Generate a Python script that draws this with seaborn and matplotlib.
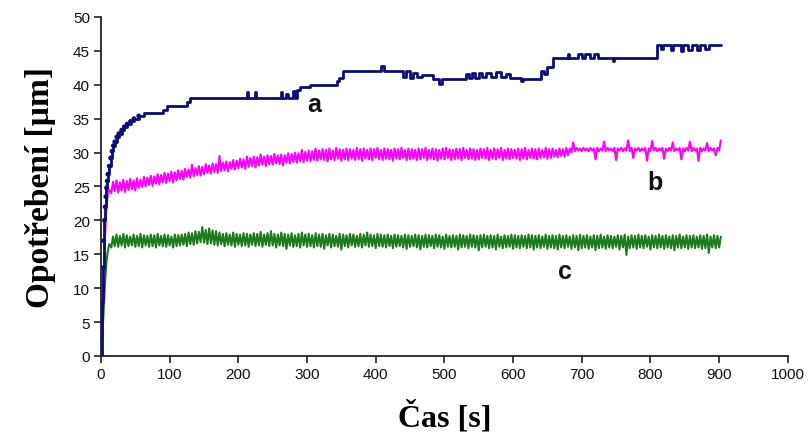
import numpy as np
import pandas as pd
import seaborn as sns
import matplotlib
matplotlib.use("Agg")
import matplotlib.pyplot as plt

# ---------------- data ----------------
x_ticks = [0, 100, 200, 300, 400, 500, 600, 700, 800, 900, 1000]
y_ticks = [0, 5, 10, 15, 20, 25, 30, 35, 40, 45, 50]

# series a (step-like wear curve)
a_time = [0, 1, 2, 3, 4, 5, 6, 7, 8, 9, 10, 12, 14, 16, 18, 20, 23, 26, 30, 34, 38, 43, 48, 55, 62,
          90, 96, 125, 130, 212, 214, 224, 226, 262, 264, 270, 273, 280, 282, 286, 290, 304, 343, 347,
          352, 408, 412, 440, 444, 450, 455, 460, 468, 483, 492, 496, 532, 536, 540, 545, 550, 555,
          560, 568, 575, 582, 590, 596, 612, 614, 640, 645, 650, 658, 680, 682, 695, 700, 705, 712,
          718, 724, 745, 747, 809, 815, 818, 830, 833, 845, 848, 855, 860, 868, 872, 880, 885, 903]
a_wear = [0, 3, 8, 13, 17, 20, 22, 23.5, 24.8, 25.8, 26.8, 28, 29.2, 30.2, 31, 31.6, 32.3, 32.8, 33.3,
          33.8, 34.2, 34.6, 35.0, 35.4, 35.9, 36.3, 36.9, 37.4, 38.0, 39.0, 38.0, 39.0, 38.0, 39.0,
          38.0, 38.6, 38.0, 39.1, 38.0, 39.2, 39.6, 40.0, 40.5, 41.0, 42.1, 42.8, 42.1, 41.2, 42.0,
          41.0, 41.8, 41.2, 41.4, 40.9, 40.1, 40.9, 41.6, 41.0, 41.8, 41.0, 41.7, 41.1, 41.8, 41.2,
          41.9, 41.2, 41.6, 41.0, 40.6, 40.9, 42.0, 41.6, 42.6, 43.9, 44.6, 43.9, 44.6, 44.0, 44.5,
          43.9, 44.6, 44.0, 43.5, 43.9, 45.9, 45.3, 45.9, 45.2, 45.9, 45.0, 45.9, 45.1, 45.9, 45.2,
          45.9, 45.3, 45.9, 45.9]

# series b and c: early rise, then alternating low readings (t = 15, 20, ... 900 s)
# and high readings (t = 17.5, 22.5, ... 902.5 s)
early_time = [0, 2, 4, 6, 8, 10, 12]
b_early = [0, 5, 12, 18, 22, 24, 24.5]
c_early = [0, 3, 7, 11, 14, 15.5, 16.5]

b_low = [24.0, 24.3, 24.1, 24.4, 24.2, 24.5, 24.6, 24.4, 24.8, 24.9,
         25.0, 25.2, 25.1, 25.4, 25.3, 25.6, 25.5, 25.8, 25.6, 25.9,
         26.1, 26.0, 26.4, 26.3, 26.5, 26.7, 26.6, 26.8, 27.0, 26.9,
         27.1, 27.0, 27.3, 27.4, 27.2, 27.6, 27.5, 27.7, 27.8, 27.6,
         27.9, 28.0, 27.8, 28.1, 28.2, 28.0, 28.3, 28.2, 28.4, 28.3,
         28.1, 28.5, 28.4, 28.6, 28.5, 28.7, 28.6, 28.8, 28.7, 28.9,
         28.8, 29.0, 28.9, 28.7, 29.0, 28.9, 29.1, 28.8, 29.0, 28.9,
         29.1, 28.9, 29.0, 28.8, 29.1, 29.0, 28.9, 29.2, 29.0, 28.9,
         29.1, 29.0, 28.8, 29.1, 29.0, 29.2, 28.9, 29.0, 29.1, 28.9,
         29.0, 29.2, 28.9, 29.1, 29.0, 28.8, 29.1, 29.0, 29.2, 28.9,
         29.0, 29.1, 28.9, 29.2, 29.0, 29.1, 28.9, 29.0, 29.2, 29.1,
         28.9, 29.1, 29.0, 29.2, 28.9, 29.1, 29.0, 29.2, 29.1, 28.9,
         29.1, 29.0, 29.2, 29.1, 29.0, 29.2, 29.3, 29.1, 29.2, 29.4,
         29.3, 29.5, 29.4, 29.6, 30.0, 30.2, 30.3, 30.2, 30.3, 30.2,
         30.3, 29.0, 30.2, 30.3, 30.2, 30.3, 30.2, 28.9, 30.3, 30.2,
         30.3, 30.2, 29.2, 30.3, 30.2, 30.3, 28.8, 30.2, 30.3, 30.2,
         30.3, 29.1, 30.2, 30.3, 30.2, 30.3, 29.0, 30.2, 30.3, 30.2,
         30.3, 28.8, 30.2, 30.3, 30.2, 30.3, 29.6, 30.3]

b_high = [25.7, 25.9, 25.6, 26.0, 25.8, 26.1, 25.9, 26.2, 26.0, 26.4,
          26.3, 26.6, 26.5, 26.8, 26.7, 27.0, 26.9, 27.2, 27.1, 27.4,
          27.3, 27.6, 27.5, 28.2, 27.7, 28.0, 27.9, 28.3, 28.1, 28.4,
          28.3, 29.5, 28.5, 28.7, 28.6, 28.9, 28.8, 29.1, 29.0, 29.4,
          29.2, 29.4, 29.3, 29.7, 29.4, 29.6, 29.5, 29.8, 29.6, 29.7,
          29.6, 29.9, 29.8, 30.0, 29.9, 30.4, 30.1, 30.3, 30.2, 30.6,
          30.3, 30.5, 30.4, 30.6, 30.3, 30.7, 30.5, 30.4, 30.6, 30.5,
          30.4, 30.7, 30.5, 30.6, 30.4, 30.6, 30.5, 30.7, 30.4, 30.6,
          30.5, 30.4, 30.6, 30.5, 30.7, 30.4, 30.6, 30.5, 30.4, 30.6,
          30.5, 30.7, 30.4, 30.6, 30.5, 30.4, 30.6, 30.7, 30.5, 30.4,
          30.6, 30.5, 30.7, 30.4, 30.6, 30.5, 30.4, 30.6, 30.5, 30.7,
          30.4, 30.6, 30.5, 30.7, 30.4, 30.6, 30.5, 30.4, 30.6, 30.5,
          30.7, 30.4, 30.6, 30.5, 30.6, 30.4, 30.7, 30.5, 30.6, 30.4,
          30.6, 30.5, 30.7, 30.6, 31.5, 30.7, 30.6, 30.7, 30.6, 30.7,
          30.6, 30.7, 30.6, 31.6, 30.7, 30.6, 30.7, 30.6, 30.7, 30.6,
          31.8, 30.7, 30.6, 30.7, 30.6, 30.7, 30.6, 31.7, 30.7, 30.6,
          30.7, 30.6, 30.7, 31.5, 30.6, 30.7, 30.6, 30.7, 31.6, 30.7,
          30.6, 30.7, 30.6, 31.4, 30.7, 30.6, 30.7, 31.8]

c_low = [16.0, 16.2, 16.1, 16.3, 16.0, 16.2, 16.3, 16.1, 16.2, 16.0,
         16.3, 16.1, 16.2, 16.0, 16.3, 16.2, 16.1, 16.3, 16.0, 16.2,
         16.3, 16.4, 16.2, 16.5, 16.4, 16.6, 16.8, 16.7, 16.5, 16.6,
         16.4, 16.3, 16.5, 16.2, 16.4, 16.3, 16.1, 16.4, 16.2, 16.3,
         16.1, 16.4, 16.2, 16.3, 16.1, 16.4, 16.2, 16.3, 16.0, 16.3,
         16.2, 15.8, 16.3, 16.1, 16.2, 16.0, 16.3, 16.1, 16.2, 16.0,
         16.2, 16.1, 15.8, 16.3, 16.0, 16.2, 16.1, 15.7, 16.2, 16.0,
         16.3, 16.1, 16.2, 16.0, 16.3, 16.1, 16.2, 15.9, 16.2, 16.1,
         16.0, 16.2, 15.9, 16.1, 16.2, 16.0, 15.8, 16.1, 16.2, 16.0,
         15.7, 16.1, 16.0, 16.2, 15.9, 16.1, 16.0, 15.8, 16.1, 16.0,
         16.1, 15.7, 16.0, 16.1, 15.9, 16.1, 16.0, 15.6, 16.0, 16.1,
         15.9, 16.0, 15.7, 16.1, 15.9, 16.0, 16.1, 15.8, 16.0, 15.9,
         16.1, 15.9, 16.0, 15.7, 16.0, 15.9, 16.1, 15.8, 16.0, 15.9,
         15.7, 16.0, 15.9, 16.1, 15.8, 16.0, 15.6, 15.9, 16.0, 15.8,
         16.0, 15.6, 15.9, 16.0, 15.8, 16.0, 15.9, 16.1, 15.7, 16.0,
         14.9, 15.9, 16.0, 15.8, 16.0, 15.9, 16.1, 15.7, 16.0, 15.9,
         16.0, 15.8, 16.0, 15.9, 15.6, 16.0, 15.9, 16.0, 15.8, 16.0,
         15.9, 16.0, 15.8, 15.9, 15.2, 16.0, 15.9, 16.0]

c_high = [17.6, 17.9, 17.7, 18.0, 17.8, 17.6, 17.9, 17.7, 18.0, 17.8,
          17.7, 17.9, 17.8, 18.0, 17.7, 17.9, 17.8, 17.6, 17.9, 17.8,
          17.9, 18.0, 18.2, 18.1, 18.4, 18.3, 19.0, 18.6, 18.8, 18.5,
          18.4, 18.2, 18.0, 18.1, 17.9, 18.2, 18.0, 17.9, 18.1, 18.0,
          17.9, 18.1, 18.0, 18.3, 17.9, 18.1, 18.4, 18.0, 17.9, 18.2,
          18.0, 17.9, 18.1, 17.8, 18.0, 18.2, 17.9, 18.0, 17.8, 18.1,
          17.9, 18.0, 17.8, 18.0, 17.9, 17.7, 18.0, 17.9, 17.8, 18.0,
          17.9, 17.7, 18.0, 17.9, 18.2, 17.9, 17.8, 18.0, 17.9, 17.8,
          17.9, 17.7, 17.9, 17.8, 17.7, 17.9, 17.8, 17.7, 17.9, 17.8,
          17.7, 17.9, 17.8, 17.7, 17.9, 17.8, 17.6, 17.9, 17.7, 17.8,
          17.7, 17.9, 17.8, 17.7, 17.9, 17.8, 17.7, 17.8, 17.9, 17.7,
          17.8, 17.7, 17.9, 17.6, 17.8, 17.7, 17.9, 17.8, 17.7, 17.8,
          17.7, 17.9, 17.8, 17.7, 17.8, 17.6, 17.9, 17.7, 17.8, 17.7,
          17.9, 17.7, 17.8, 17.6, 17.8, 17.7, 17.9, 17.7, 17.8, 17.6,
          17.8, 17.7, 17.9, 17.6, 17.8, 17.7, 17.6, 17.8, 17.7, 17.9,
          17.6, 17.8, 17.7, 17.9, 17.7, 17.8, 17.6, 17.8, 17.7, 17.9,
          17.7, 17.8, 17.6, 17.8, 17.7, 17.9, 17.6, 17.8, 17.7, 17.8,
          17.6, 17.8, 17.7, 17.9, 17.6, 17.8, 17.7, 17.6]

series_labels = ["a", "b", "c"]
label_pos_time = [311, 806, 675]
label_pos_wear = [37.2, 25.7, 12.5]


# ---------------- build tables ----------------
def band_table(early_vals, lows, highs):
    t_low = [15 + 5 * i for i in range(len(lows))]
    t_high = [17.5 + 5 * i for i in range(len(highs))]
    df = pd.DataFrame({"t": early_time + t_low + t_high,
                       "w": early_vals + lows + highs})
    return df.sort_values("t").reset_index(drop=True)


b_df = band_table(b_early, b_low, b_high)
c_df = band_table(c_early, c_low, c_high)
a_df = pd.DataFrame({"t": a_time, "w": a_wear})

# ---------------- plot ----------------
sns.set_theme(style="white")
plt.rcParams["font.family"] = ["Liberation Sans", "DejaVu Sans"]

fig = plt.figure(figsize=(8.08, 4.39), dpi=100)
ax = fig.add_axes([0.125, 0.187, 0.85, 0.772])

sns.lineplot(data=c_df, x="t", y="w", ax=ax, color="#1d7a1d", linewidth=1.5,
             estimator=None, sort=False)
sns.lineplot(data=b_df, x="t", y="w", ax=ax, color="#ff00ff", linewidth=1.5,
             estimator=None, sort=False)
sns.lineplot(data=a_df, x="t", y="w", ax=ax, color="#0c0c7a", linewidth=2.0,
             drawstyle="steps-post", estimator=None, sort=False)
early = a_df[a_df["t"] <= 60]
sns.scatterplot(data=early, x="t", y="w", ax=ax, color="#0c0c7a", s=12, edgecolor="none")

for lab, tx, ty in zip(series_labels, label_pos_time, label_pos_wear):
    ax.text(tx, ty, lab, fontsize=18, fontweight="bold", color="#111111",
            ha="center", va="center")

ax.set_xlim(0, 1000)
ax.set_ylim(0, 50)
ax.set_xticks(x_ticks)
ax.set_yticks(y_ticks)
ax.set_xticklabels([str(v) for v in x_ticks], fontsize=11, color="#111111")
ax.set_yticklabels([str(v) for v in y_ticks], fontsize=11, color="#111111")
ax.tick_params(axis="both", direction="out", length=5, width=1.2, color="#222222",
               bottom=True, left=True, pad=3)

for side in ["top", "right"]:
    ax.spines[side].set_visible(False)
for side in ["left", "bottom"]:
    ax.spines[side].set_color("#222222")
    ax.spines[side].set_linewidth(1.3)

ax.set_xlabel("Čas [s]", fontsize=23, fontweight="bold", color="black",
              family=["Liberation Serif", "DejaVu Serif"], labelpad=14)
ax.set_ylabel("Opotřebení [µm]", fontsize=24, fontweight="bold", color="black",
              family=["Liberation Serif", "DejaVu Serif"], labelpad=12)

fig.savefig("out.png", dpi=100)
